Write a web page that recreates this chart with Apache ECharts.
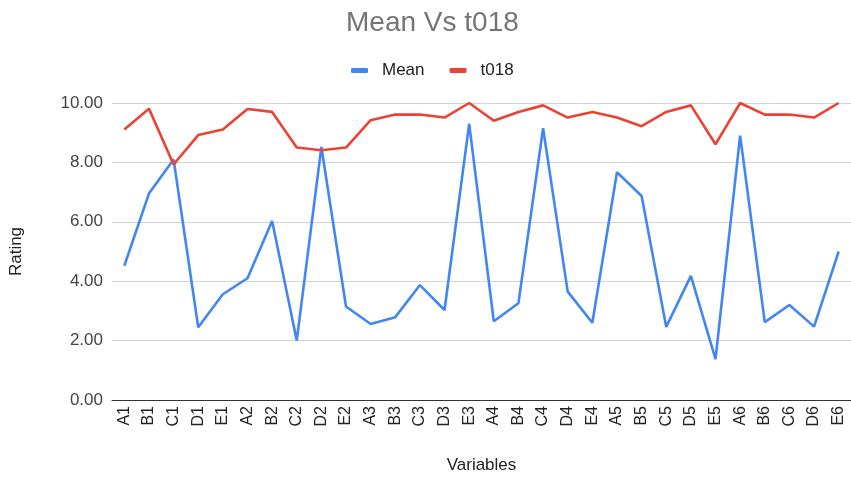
<!DOCTYPE html>
<html>
<head>
<meta charset="utf-8">
<script src="https://cdn.jsdelivr.net/npm/echarts@6/dist/echarts.min.js"></script>
<style>html,body{margin:0;padding:0;background:#fff}#c{width:851px;height:479px}</style>
</head>
<body>
<div id="c"></div>
<script>
var categories = ['A1','B1','C1','D1','E1','A2','B2','C2','D2','E2','A3','B3','C3','D3','E3','A4','B4','C4','D4','E4','A5','B5','C5','D5','E5','A6','B6','C6','D6','E6'];
var meanValues = [4.52, 6.95, 8.10, 2.45, 3.56, 4.10, 6.03, 2.00, 8.52, 3.15, 2.56, 2.79, 3.87, 3.03, 9.30, 2.65, 3.26, 9.15, 3.65, 2.60, 7.67, 6.87, 2.46, 4.18, 1.38, 8.90, 2.62, 3.20, 2.47, 5.00];
var t018Values = [9.11, 9.81, 7.93, 8.92, 9.11, 9.80, 9.70, 8.50, 8.41, 8.50, 9.42, 9.61, 9.61, 9.51, 10.00, 9.40, 9.70, 9.92, 9.51, 9.70, 9.51, 9.22, 9.70, 9.92, 8.61, 10.00, 9.61, 9.61, 9.51, 10.00];
var seriesNames = ['Mean', 't018'];
var yTicks = [0, 2, 4, 6, 8, 10];

var font = 'Liberation Sans, Arial, sans-serif';
var chart = echarts.init(document.getElementById('c'), null, {renderer: 'canvas'});
chart.setOption({
  animation: false,
  backgroundColor: '#ffffff',
  title: {
    text: 'Mean Vs t018',
    left: 341, top: 4,
    textStyle: {color: '#757575', fontSize: 28, fontWeight: 'normal', fontFamily: font}
  },
  legend: {
    data: seriesNames,
    left: 346, top: 57,
    icon: 'roundRect',
    itemWidth: 17, itemHeight: 5,
    itemGap: 25,
    textStyle: {color: '#222', fontSize: 17, fontFamily: font, padding: [0, 0, 0, 9]}
  },
  grid: {left: 111, top: 103, width: 747, height: 300, containLabel: false},
  xAxis: {
    type: 'category',
    data: categories,
    boundaryGap: true,
    name: 'Variables',
    nameLocation: 'middle',
    nameGap: 57,
    nameTextStyle: {color: '#222', fontSize: 17, fontFamily: font},
    axisLine: {show: true, lineStyle: {color: '#333', width: 1}},
    axisTick: {show: false},
    axisLabel: {rotate: 90, interval: 0, color: '#222', fontSize: 16, fontFamily: font, margin: 6},
    splitLine: {show: false}
  },
  yAxis: {
    type: 'value',
    min: yTicks[0], max: yTicks[yTicks.length - 1], interval: 2,
    name: 'Rating',
    nameLocation: 'middle',
    nameRotate: 90,
    nameGap: 87,
    nameTextStyle: {color: '#222', fontSize: 17, fontFamily: font},
    axisLine: {show: false},
    axisTick: {show: false},
    axisLabel: {color: '#444', fontSize: 17, fontFamily: font, margin: 9, formatter: function (v) { return v.toFixed(2); }},
    splitLine: {lineStyle: {color: '#d3d3d3', width: 1}}
  },
  series: [
    {name: seriesNames[0], type: 'line', data: meanValues, symbol: 'none', lineStyle: {color: '#4285F4', width: 2.6}, itemStyle: {color: '#4285F4'}},
    {name: seriesNames[1], type: 'line', data: t018Values, symbol: 'none', lineStyle: {color: '#EA4335', width: 2.6}, itemStyle: {color: '#EA4335'}}
  ]
});
</script>
</body>
</html>
